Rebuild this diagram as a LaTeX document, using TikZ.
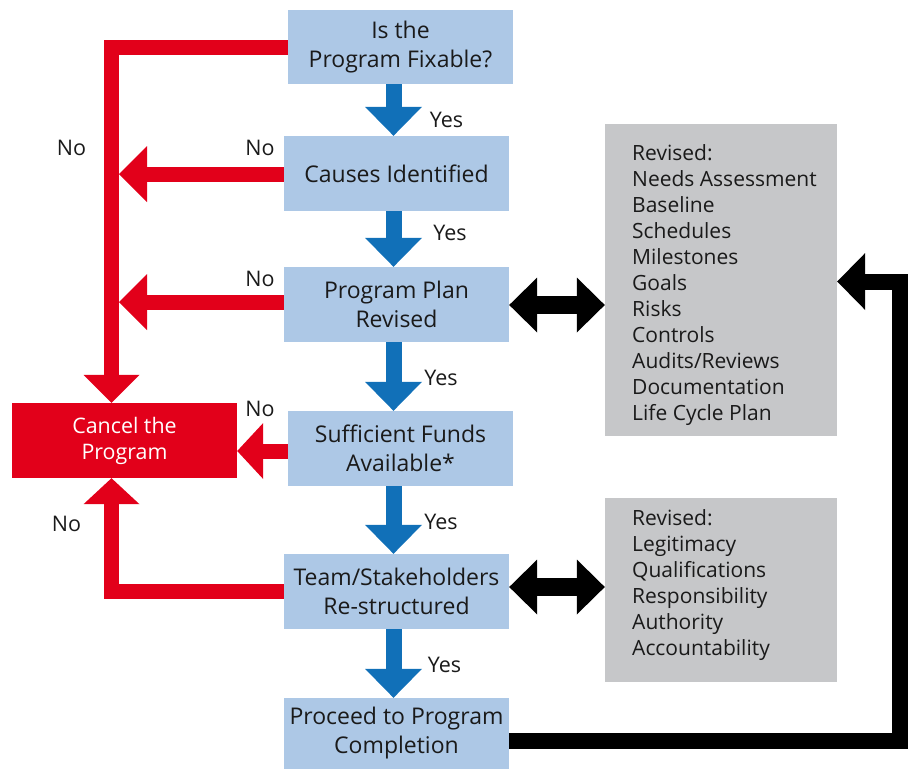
\documentclass[tikz,border=0pt]{standalone}
\usepackage{fontspec}
\setmainfont{Open Sans}
\usetikzlibrary{arrows.meta}
\definecolor{boxblue}{HTML}{ADC8E6}
\definecolor{arrowblue}{HTML}{1170B8}
\definecolor{cancelred}{HTML}{E2001A}
\definecolor{panelgray}{HTML}{C6C7C9}
\definecolor{txt}{HTML}{1A1A1A}
\begin{document}
\begin{tikzpicture}[x=1pt,y=-1pt,
  stepbox/.style={fill=boxblue, draw=none, minimum width=225pt, minimum height=75pt, inner sep=0pt, align=center, text=txt, font=\fontsize{23}{29}\selectfont},
  cancelbox/.style={fill=cancelred, draw=none, minimum width=225pt, minimum height=75pt, inner sep=0pt, align=center, text=white, font=\fontsize{21.4}{26}\selectfont},
  panel/.style={fill=panelgray, draw=none, inner sep=0pt},
  paneltext/.style={anchor=west, align=left, inner sep=0pt, text=txt, font=\fontsize{21}{26}\selectfont},
  lbl/.style={inner sep=0pt, text=txt, font=\fontsize{21.5}{24}\selectfont},
  bluearrow/.style={draw=arrowblue, line width=16pt, -{Triangle[length=29pt,width=57pt,line width=0pt]}},
  redarrow/.style={draw=cancelred, line width=15pt, line join=miter, -{Triangle[length=28pt,width=56pt,line width=0pt]}},
  blackdouble/.style={draw=black, line width=18pt, {Triangle[length=28pt,width=55pt,line width=0pt]}-{Triangle[length=28pt,width=55pt,line width=0pt]}},
  blackarrow/.style={draw=black, line width=16pt, line join=miter, -{Triangle[length=28pt,width=57pt,line width=0pt]}}
]
\useasboundingbox (0,0) rectangle (909,769);

% panels
\node[panel, minimum width=232pt, minimum height=312pt] (g1) at (721,280) {};
\node[paneltext] (g1t) at (632,285) {Revised:\\Needs Assessment\\Baseline\\Schedules\\Milestones\\Goals\\Risks\\Controls\\Audits/Reviews\\Documentation\\Life Cycle Plan};
\node[panel, minimum width=232pt, minimum height=184pt] (g2) at (721,590) {};
\node[paneltext] (g2t) at (632,585.5) {Revised:\\Legitimacy\\Qualifications\\Responsibility\\Authority\\Accountability};

% steps
\node[stepbox, minimum height=74pt] (b1) at (400.5,47) {Is the\\Program Fixable?};
\node[stepbox] (b2) at (396.5,173.5) {Causes Identified};
\node[stepbox] (b3) at (396.5,304.5) {Program Plan\\Revised};
\node[stepbox] (b4) at (400.5,448.5) {Sufficient Funds\\Available*};
\node[stepbox] (b5) at (396.5,591.5) {Team/Stakeholders\\Re-structured};
\node[stepbox, minimum height=71pt] (b6) at (396.5,733.5) {Proceed to Program\\Completion};
\node[cancelbox] (cancel) at (124.5,440.5) {Cancel the\\Program};

% helper coordinates
\coordinate (bx) at (393.5,0);
\coordinate (vtop) at (111.5,47);
\coordinate (redright) at (119,0);
\coordinate (corner) at (899.5,281.5);

% blue yes arrows
\draw[bluearrow] (b1.south -| bx) -- (b2.north -| bx);
\draw[bluearrow] (b2.south -| bx) -- (b3.north -| bx);
\draw[bluearrow] (b3.south -| bx) -- (b4.north -| bx);
\draw[bluearrow] (b4.south -| bx) -- (b5.north -| bx);
\draw[bluearrow] (b5.south -| bx) -- (b6.north -| bx);

% red no arrows
\draw[redarrow] (b1.west) -- (b1.west -| vtop) -- (cancel.north -| vtop);
\draw[redarrow] ([yshift=-0.5pt]b2.west) -- ([yshift=-0.5pt]b2.west -| redright);
\draw[redarrow] ([yshift=2.5pt]b3.west) -- ([yshift=2.5pt]b3.west -| redright);
\draw[redarrow, -{Triangle[length=26pt,width=56pt,line width=0pt]}] ([yshift=-2.5pt]b4.west) -- ([yshift=-2.5pt]b4.west -| cancel.east);
\draw[redarrow, -{Triangle[length=26pt,width=56pt,line width=0pt]}] (b5.west) -- (b5.west -| vtop) -- (cancel.south -| vtop);

% black arrows
\draw[blackdouble] ([yshift=-0.5pt]b3.east) -- ([yshift=-0.5pt]b3.east -| g1.west);
\draw[blackdouble] ([yshift=4.5pt]b5.east) -- ([yshift=4.5pt]b5.east -| g2.west);
\draw[blackarrow] ([yshift=-7pt]b6.east) -- ([yshift=-7pt]b6.east -| corner) -- (corner) -- (corner -| g1.east);

% labels
\node[lbl] (yes1) at (446.5,120) {Yes};
\node[lbl] (yes2) at (450,233) {Yes};
\node[lbl] (yes3) at (441,378) {Yes};
\node[lbl] (yes4) at (441,522) {Yes};
\node[lbl] (yes5) at (444.5,665) {Yes};
\node[lbl] (no1) at (71.5,148) {No};
\node[lbl] (no2) at (260,148) {No};
\node[lbl] (no3) at (260,279) {No};
\node[lbl] (no4) at (260,409) {No};
\node[lbl] (no5) at (66.5,524) {No};
\end{tikzpicture}
\end{document}
